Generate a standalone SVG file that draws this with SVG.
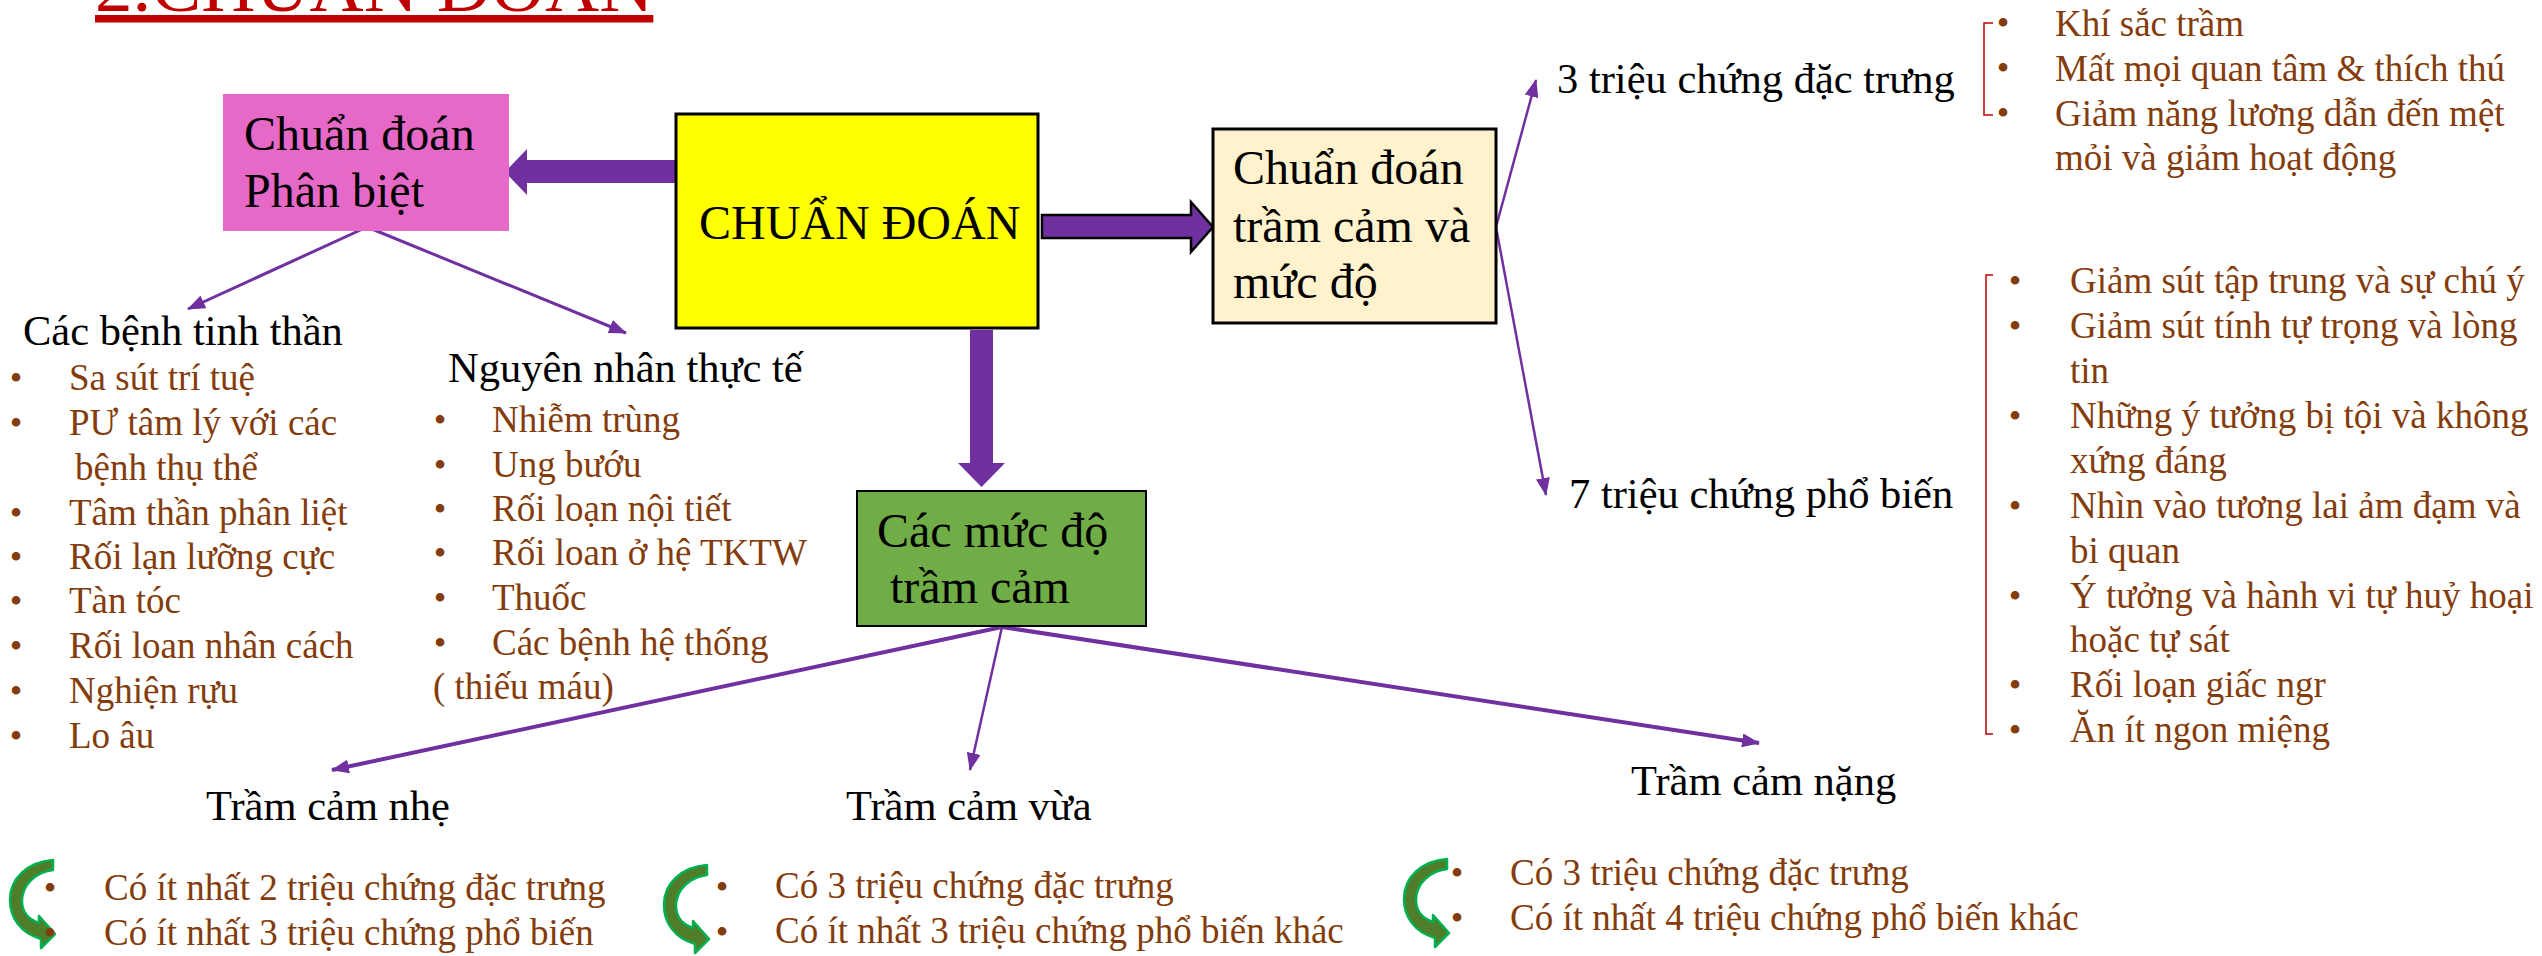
<svg xmlns="http://www.w3.org/2000/svg" xmlns:xlink="http://www.w3.org/1999/xlink" width="2542" height="956" viewBox="0 0 2542 956">
<style>
text{font-family:"Liberation Serif","Times New Roman",serif}
.box{font-size:48px;fill:#000}
.h{font-size:42.5px;fill:#000}
.b{font-size:37px;fill:#843C0C}
.bul{font-size:36px;fill:#843C0C;text-anchor:middle}
.ln{stroke:#7030A0;fill:none;marker-end:url(#ah)}
.brk{stroke:#C00000;stroke-width:1.5;fill:none}
.curve{fill:#507D2A;stroke:#00B050;stroke-width:2.5;stroke-linejoin:round}
</style>
<defs>
<marker id="ah" viewBox="0 0 18 14" refX="17" refY="7" markerWidth="18" markerHeight="14" markerUnits="userSpaceOnUse" orient="auto"><path d="M0,0 L18,7 L0,14 z" fill="#7030A0"/></marker>
<path id="carrow" d="M43 0 L43 10 C25 12 12 25 12 41 C12 53 20 60 29 63 L29 56 L45 74 L31 88 L31 79 C10 73 0 57 0 40 C0 18 18 2 43 0 Z"/>
</defs>
<rect width="2542" height="956" fill="#fff"/>

<g id="title"><text x="95" y="11" font-size="75" fill="#C00000" text-decoration="underline">2.CHUẨN ĐOÁN</text></g>

<g id="connectors">
<polygon points="688,160 527,160 527,149 505,172 527,195 527,183 688,183" fill="#7030A0"/>
<polygon points="1042,215 1191,215 1191,202 1213,227 1191,252 1191,238 1042,238" fill="#7030A0" stroke="#000" stroke-width="2.5" stroke-linejoin="miter"/>
<polygon points="970,330 993,330 993,463 1005,463 981.5,487 958,463 970,463" fill="#7030A0"/>
<line class="ln" x1="367" y1="227" x2="188" y2="309" stroke-width="3"/>
<line class="ln" x1="367" y1="227" x2="626" y2="333" stroke-width="3"/>
<line class="ln" x1="1002" y1="627" x2="332" y2="770" stroke-width="4"/>
<line class="ln" x1="1002" y1="627" x2="970" y2="770" stroke-width="2.5"/>
<line class="ln" x1="1002" y1="627" x2="1759" y2="743" stroke-width="4"/>
<line class="ln" x1="1496" y1="227" x2="1536" y2="80" stroke-width="2.5"/>
<line class="ln" x1="1496" y1="227" x2="1546" y2="495" stroke-width="2.5"/>
</g>

<g id="node-phan-biet">
<rect x="223" y="94" width="286" height="137" fill="#E669C8"/>
<text class="box" x="244" y="150">Chuẩn đoán</text>
<text class="box" x="244" y="207">Phân biệt</text>
</g>

<g id="node-chuan-doan">
<rect x="676" y="114" width="362" height="214" fill="#FFFF00" stroke="#000" stroke-width="3"/>
<text class="box" x="699" y="239">CHUẨN ĐOÁN</text>
</g>

<g id="node-tram-cam-muc-do">
<rect x="1213" y="129" width="283" height="194" fill="#FFF2CC" stroke="#000" stroke-width="3"/>
<text class="box" x="1233" y="184">Chuẩn đoán</text>
<text class="box" x="1233" y="242">trầm cảm và</text>
<text class="box" x="1233" y="298">mức độ</text>
</g>

<g id="node-cac-muc-do">
<rect x="857" y="491" width="289" height="135" fill="#70AD47" stroke="#000" stroke-width="2"/>
<text class="box" x="877" y="547">Các mức độ</text>
<text class="box" x="890" y="603">trầm cảm</text>
</g>

<g id="node-benh-tinh-than">
<text class="h" x="23" y="345">Các bệnh tinh thần</text>
<text class="bul" x="16" y="390">•</text><text class="b" x="69" y="390">Sa sút trí tuệ</text>
<text class="bul" x="16" y="435">•</text><text class="b" x="69" y="435">PƯ tâm lý với các</text>
<text class="b" x="75" y="480">bệnh thụ thể</text>
<text class="bul" x="16" y="525">•</text><text class="b" x="69" y="525">Tâm thần phân liệt</text>
<text class="bul" x="16" y="569">•</text><text class="b" x="69" y="569">Rối lạn lưỡng cực</text>
<text class="bul" x="16" y="613">•</text><text class="b" x="69" y="613">Tàn tóc</text>
<text class="bul" x="16" y="658">•</text><text class="b" x="69" y="658">Rối loan nhân cách</text>
<text class="bul" x="16" y="703">•</text><text class="b" x="69" y="703">Nghiện rựu</text>
<text class="bul" x="16" y="748">•</text><text class="b" x="69" y="748">Lo âu</text>
</g>

<g id="node-nguyen-nhan">
<text class="h" x="448" y="382">Nguyên nhân thực tế</text>
<text class="bul" x="440" y="432">•</text><text class="b" x="492" y="432">Nhiễm trùng</text>
<text class="bul" x="440" y="477">•</text><text class="b" x="492" y="477">Ung bướu</text>
<text class="bul" x="440" y="521">•</text><text class="b" x="492" y="521">Rối loạn nội tiết</text>
<text class="bul" x="440" y="565">•</text><text class="b" x="492" y="565">Rối loan ở hệ TKTW</text>
<text class="bul" x="440" y="610">•</text><text class="b" x="492" y="610">Thuốc</text>
<text class="bul" x="440" y="655">•</text><text class="b" x="492" y="655">Các bệnh hệ thống</text>
<text class="b" x="433" y="699">( thiếu máu)</text>
</g>

<g id="node-3-trieu-chung">
<text class="h" x="1557" y="93">3 triệu chứng đặc trưng</text>
<path class="brk" d="M1993 23 L1984 23 L1984 115 L1993 115"/>
<text class="bul" x="2003" y="35">•</text><text class="b" x="2055" y="36">Khí sắc trầm</text>
<text class="bul" x="2003" y="80">•</text><text class="b" x="2055" y="81">Mất mọi quan tâm &amp; thích thú</text>
<text class="bul" x="2003" y="125">•</text><text class="b" x="2055" y="126">Giảm năng lương dẫn đến mệt</text>
<text class="b" x="2055" y="170">mỏi và giảm hoạt động</text>
</g>

<g id="node-7-trieu-chung">
<text class="h" x="1569" y="508">7 triệu chứng phổ biến</text>
<path class="brk" d="M1993 275 L1986 275 L1986 734 L1993 734"/>
<text class="bul" x="2015" y="293">•</text><text class="b" x="2070" y="293">Giảm sút tập trung và sự chú ý</text>
<text class="bul" x="2015" y="338">•</text><text class="b" x="2070" y="338">Giảm sút tính tự trọng và lòng</text>
<text class="b" x="2070" y="383">tin</text>
<text class="bul" x="2015" y="428">•</text><text class="b" x="2070" y="428">Những ý tưởng bị tội và không</text>
<text class="b" x="2070" y="473">xứng đáng</text>
<text class="bul" x="2015" y="518">•</text><text class="b" x="2070" y="518">Nhìn vào tương lai ảm đạm và</text>
<text class="b" x="2070" y="563">bi quan</text>
<text class="bul" x="2015" y="608">•</text><text class="b" x="2070" y="608">Ý tưởng và hành vi tự huỷ hoại</text>
<text class="b" x="2070" y="652">hoặc tự sát</text>
<text class="bul" x="2015" y="697">•</text><text class="b" x="2070" y="697">Rối loạn giấc ngr</text>
<text class="bul" x="2015" y="742">•</text><text class="b" x="2070" y="742">Ăn ít ngon miệng</text>
</g>

<g id="node-nhe">
<text class="h" x="206" y="820">Trầm cảm nhẹ</text>
</g>
<g id="node-vua">
<text class="h" x="846" y="820">Trầm cảm vừa</text>
</g>
<g id="node-nang">
<text class="h" x="1631" y="795">Trầm cảm nặng</text>
</g>

<g id="node-tieu-chuan-nhe">
<use xlink:href="#carrow" class="curve" transform="translate(10,860)"/>
<text class="bul" x="50" y="900">•</text><text class="b" x="104" y="900">Có ít nhất 2 triệu chứng đặc trưng</text>
<text class="bul" x="50" y="945">•</text><text class="b" x="104" y="945">Có ít nhất 3 triệu chứng phổ biến</text>
</g>

<g id="node-tieu-chuan-vua">
<use xlink:href="#carrow" class="curve" transform="translate(664,865)"/>
<text class="bul" x="722" y="899">•</text><text class="b" x="775" y="898">Có 3 triệu chứng đặc trưng</text>
<text class="bul" x="722" y="944">•</text><text class="b" x="775" y="943">Có ít nhất 3 triệu chứng phổ biến khác</text>
</g>

<g id="node-tieu-chuan-nang">
<use xlink:href="#carrow" class="curve" transform="translate(1404,859)"/>
<text class="bul" x="1457" y="885">•</text><text class="b" x="1510" y="885">Có 3 triệu chứng đặc trưng</text>
<text class="bul" x="1457" y="930">•</text><text class="b" x="1510" y="930">Có ít nhất 4 triệu chứng phổ biến khác</text>
</g>
</svg>
